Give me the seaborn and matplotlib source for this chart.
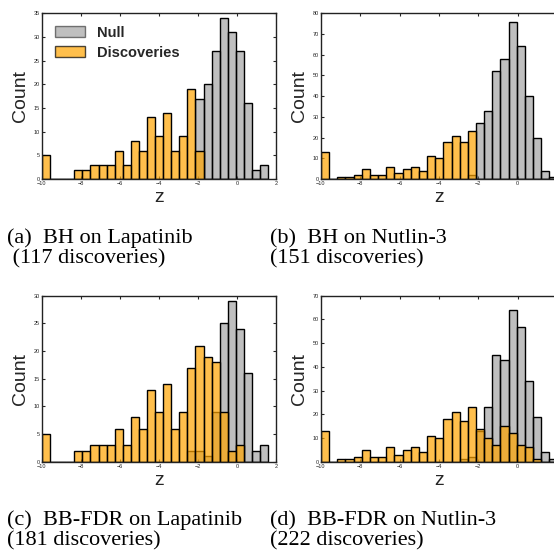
import numpy as np
import pandas as pd
import matplotlib
matplotlib.use("Agg")
import matplotlib.pyplot as plt
import seaborn as sns
from matplotlib.patches import Patch

# bin edges (Lapatinib: 28 bins, Nutlin-3: 29 bins)
edges_lap = np.linspace(-10, 1.6, 29)
edges_nut = np.linspace(-10, 2.03, 30)

# counts per bin
disc_a = [5, 0, 0, 0, 2, 2, 3, 3, 3, 6, 3, 8, 6, 13, 9, 14, 6, 9, 19, 6, 0, 0, 0, 0, 0, 0, 0, 0]
null_a = [0] * 19 + [17, 20, 27, 34, 31, 27, 16, 2, 3]

disc_b = [13, 0, 1, 1, 2, 5, 2, 2, 6, 3, 5, 6, 4, 11, 10, 18, 21, 18, 23] + [0] * 10
null_b = [0] * 18 + [2, 27, 33, 52, 58, 76, 64, 40, 20, 4, 1]

disc_c = [5, 0, 0, 0, 2, 2, 3, 3, 3, 6, 3, 8, 6, 13, 9, 14, 6, 9, 17, 21, 19, 18, 9, 2, 3, 0, 0, 0]
null_c = [0] * 18 + [2, 2, 1, 9, 25, 29, 24, 16, 2, 3]

disc_d = [13, 0, 1, 1, 2, 5, 2, 2, 6, 3, 5, 6, 4, 11, 10, 18, 21, 17, 23, 14, 10, 7, 15, 12, 7, 6, 1, 0, 0]
null_d = [0] * 17 + [1, 2, 13, 23, 45, 43, 64, 57, 34, 19, 4, 1]

captions = [
    ("(a)  BH on Lapatinib", " (117 discoveries)"),
    ("(b)  BH on Nutlin-3", "(151 discoveries)"),
    ("(c)  BB-FDR on Lapatinib", "(181 discoveries)"),
    ("(d)  BB-FDR on Nutlin-3", "(222 discoveries)"),
]
ymax = [35, 80, 30, 70]
ystep = [5, 10, 5, 10]

sns.set_style('ticks')
plt.rcParams['font.family'] = ['Liberation Sans', 'DejaVu Sans']
plt.rcParams['xtick.direction'] = 'in'
plt.rcParams['ytick.direction'] = 'in'

W, H = 554, 556
fig = plt.figure(figsize=(W / 100, H / 100), dpi=100)

# axes boxes in pixels: left, top, right, bottom
boxes = [(42, 13.3, 276, 179), (321, 13.3, 557, 179),
         (42, 295.7, 276, 461.7), (321, 295.7, 557, 461.7)]
panels = [(edges_lap, disc_a, null_a), (edges_nut, disc_b, null_b),
          (edges_lap, disc_c, null_c), (edges_nut, disc_d, null_d)]

for i, ((l, t, r, b), (edges, disc, null)) in enumerate(zip(boxes, panels)):
    ax = fig.add_axes([l / W, 1 - b / H, (r - l) / W, (b - t) / H])
    centers = (edges[:-1] + edges[1:]) / 2
    df = pd.DataFrame({'z': centers, 'null': null, 'disc': disc})
    sns.histplot(data=df, x='z', weights='null', bins=list(edges), color='gray',
                 alpha=0.5, edgecolor='black', linewidth=1, ax=ax)
    sns.histplot(data=df, x='z', weights='disc', bins=list(edges), color='orange',
                 alpha=0.7, edgecolor='black', linewidth=1, ax=ax)
    ax.set_xlim(-10, 2)
    ax.set_ylim(0, ymax[i])
    ax.set_xticks(np.arange(-10, 3, 2))
    ax.set_yticks(np.arange(0, ymax[i] + 1, ystep[i]))
    ax.tick_params(labelsize=4, length=2.5, width=0.8, top=True, right=True, pad=1.5)
    for sp in ax.spines.values():
        sp.set_linewidth(1)
        sp.set_color('#222222')
    ax.set_xlabel('z', fontsize=14)
    ax.set_ylabel('Count', fontsize=14)
    ax.xaxis.set_label_coords(0.5, -0.06)
    ax.yaxis.set_label_coords(-0.055, 0.5)

    x0 = 7 if i % 2 == 0 else 270
    y0 = 243 if i < 2 else 525
    fig.text(x0 / W, 1 - y0 / H, captions[i][0], family='Liberation Serif',
             fontsize=16, va='baseline', ha='left', color='black')
    fig.text(x0 / W, 1 - (y0 + 20) / H, captions[i][1], family='Liberation Serif',
             fontsize=16, va='baseline', ha='left', color='black')

    if i == 0:
        handles = [Patch(facecolor='gray', alpha=0.5, edgecolor='black', label='Null'),
                   Patch(facecolor='orange', alpha=0.7, edgecolor='black', label='Discoveries')]
        ax.legend(handles=handles, loc='upper left', bbox_to_anchor=(0.055, 0.925),
                  frameon=False, borderpad=0, borderaxespad=0, handlelength=2.1,
                  handleheight=0.75, handletextpad=0.8, labelspacing=0.42,
                  prop={'weight': 'bold', 'size': 10.5})

fig.savefig('out.png', dpi=100)
